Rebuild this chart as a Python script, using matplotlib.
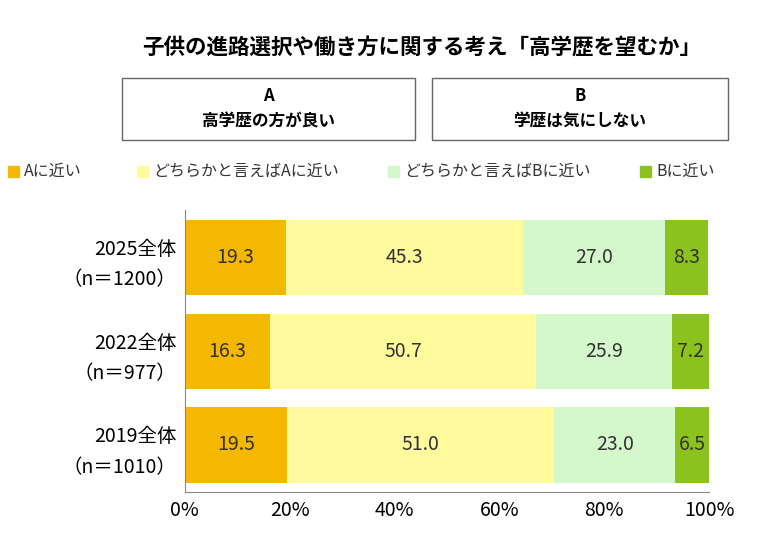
import matplotlib
matplotlib.use("Agg")
import matplotlib.pyplot as plt
from matplotlib.patches import Rectangle

plt.rcParams["font.family"] = "Noto Sans CJK JP"

categories = ["2025全体\n（n＝1200）", "2022全体\n（n＝977）", "2019全体\n（n＝1010）"]
series_names = ["Aに近い", "どちらかと言えばAに近い", "どちらかと言えばBに近い", "Bに近い"]
a_close = [19.3, 16.3, 19.5]
a_some = [45.3, 50.7, 51.0]
b_some = [27.0, 25.9, 23.0]
b_close = [8.3, 7.2, 6.5]
colors = ["#F5B800", "#FFFB9C", "#D4F8CC", "#8CC21E"]
xticks = [0, 20, 40, 60, 80, 100]

fig = plt.figure(figsize=(7.8, 5.49), dpi=100)
ax = fig.add_axes([0.237, 0.104, 0.672, 0.513])
ys = [2, 1, 0]
left = [0, 0, 0]
for vals, col in zip([a_close, a_some, b_some, b_close], colors):
    ax.barh(ys, vals, left=left, color=col, height=0.8)
    for y, l, v in zip(ys, left, vals):
        ax.text(l + v / 2, y, f"{v:.1f}", ha="center", va="center", fontsize=14, color="#333333")
    left = [l + v for l, v in zip(left, vals)]
ax.set_xlim(0, 100)
ax.set_ylim(-0.5, 2.5)
ax.set_xticks(xticks)
ax.set_xticklabels([f"{t}%" for t in xticks], fontsize=14)
ax.set_yticks(ys)
ax.set_yticklabels(categories, fontsize=14, linespacing=1.6)
for s in ["top", "right"]:
    ax.spines[s].set_visible(False)
ax.spines["left"].set_color("#888888")
ax.spines["bottom"].set_color("#888888")
ax.tick_params(length=0, pad=6)

fig.text(0.54, 0.915, "子供の進路選択や働き方に関する考え「高学歴を望むか」", ha="center", va="center",
         fontsize=15.5, fontweight="bold")
for x0, x1, t1, t2 in [(122, 415, "A", "高学歴の方が良い"), (432, 728, "B", "学歴は気にしない")]:
    fig.add_artist(Rectangle((x0 / 780, 1 - 140 / 549), (x1 - x0) / 780, 62 / 549,
                             transform=fig.transFigure, fill=False, edgecolor="#666666", lw=1))
    cx = (x0 + x1) / 2 / 780
    fig.text(cx, 1 - 96 / 549, t1, ha="center", va="center", fontsize=12, fontweight="bold")
    fig.text(cx, 1 - 121 / 549, t2, ha="center", va="center", fontsize=12, fontweight="bold")

leg_x = [8, 137, 388, 640]
for x, name, col in zip(leg_x, series_names, colors):
    fig.add_artist(Rectangle((x / 780, 1 - 177 / 549), 11 / 780, 11 / 549,
                             transform=fig.transFigure, color=col))
    fig.text((x + 16) / 780, 1 - 171 / 549, name, ha="left", va="center", fontsize=11.5, color="#333333")

fig.savefig("out.png", dpi=100)
